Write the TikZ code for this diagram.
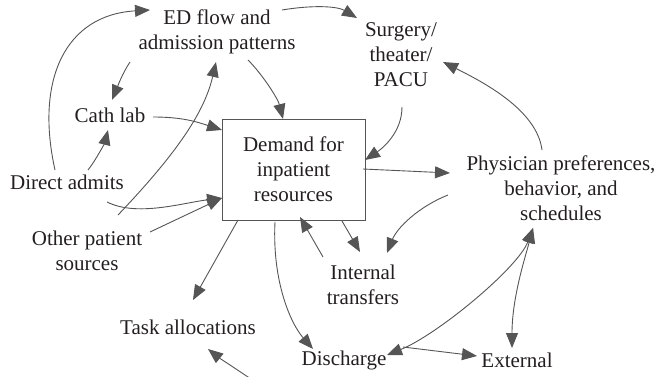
\documentclass[tikz,border=0pt]{standalone}
\usepackage{fontspec}
\setmainfont{Liberation Serif}
\usetikzlibrary{arrows.meta}
\definecolor{cg}{HTML}{555555}
\definecolor{tx}{HTML}{231F20}
\begin{document}
\begin{tikzpicture}[x=1pt,y=-1pt,
  lbl/.style={text=tx, align=center, inner sep=0pt, font=\fontsize{21}{25}\selectfont},
  boxn/.style={lbl, draw=cg, line width=0.9pt, minimum width=143pt, minimum height=101pt},
  conn/.style={draw=cg, line width=0.9pt, -{Triangle[length=15pt,width=12pt]}},
  dconn/.style={draw=cg, line width=0.9pt, {Triangle[length=15pt,width=12pt]}-{Triangle[length=15pt,width=12pt]}}]
\useasboundingbox (0,0) rectangle (661,377);
% nodes
\node[lbl] (ed) at (217,32) {ED flow and\\admission patterns};
\node[lbl] (surg) at (401,55) {Surgery/\\theater/\\PACU};
\node[lbl] (cath) at (110,115) {Cath lab};
\node[lbl] (direct) at (67,182) {Direct admits};
\node[lbl] (other) at (87,251) {Other patient\\sources};
\node[boxn] (dem) at (293.5,169.5) {Demand for\\inpatient\\resources};
\node[lbl] (phys) at (561,188) {Physician preferences,\\behavior, and\\schedules};
\node[lbl] (int) at (363,285) {Internal\\transfers};
\node[lbl] (task) at (188,327) {Task allocations};
\node[lbl] (dis) at (344,360) {Discharge};
\node[lbl] (ext) at (517,360) {External};
\coordinate (disout) at (254,381);
% connectors
\draw[conn] ([shift={(-12,-12)}]direct.center) .. controls +(-20,-90) and +(-85,5) .. ([shift={(-67,-22)}]ed.center);
\draw[conn] ([shift={(-87,30)}]ed.center) .. controls +(-8,12) and +(5,-12) .. ([shift={(2,-15)}]cath.center);
\draw[conn] ([shift={(21,-12)}]direct.center) .. controls +(8,-10) and +(-3,12) .. ([shift={(-2,15)}]cath.center);
\draw[conn] ([shift={(31,-36)}]other.center) .. controls +(62,-65) and +(-11,48) .. ([shift={(-1,30)}]ed.center);
\draw[conn] ([shift={(31,28)}]ed.center) .. controls +(15,15) and +(-5,-20) .. ([shift={(-10.5,-50.5)}]dem.center);
\draw[conn] ([shift={(43,2)}]cath.center) .. controls +(30,0) and +(-25,-8) .. ([shift={(-71.5,-39.5)}]dem.center);
\draw[conn] ([shift={(65,-22)}]ed.center) .. controls +(30,-5) and +(-20,-12) .. ([shift={(-44,-37)}]surg.center);
\draw[conn] ([shift={(1,52)}]surg.center) .. controls +(0,25) and +(18,-12) .. ([shift={(71.5,-9.5)}]dem.center);
\draw[conn] ([shift={(-19,-38)}]phys.center) .. controls +(-5,-40) and +(40,20) .. ([shift={(42,7)}]surg.center);
\draw[conn] ([shift={(69.5,-0.5)}]dem.center) -- ([shift={(-111,-15)}]phys.center);
\draw[conn] ([shift={(-113,7)}]phys.center) .. controls +(-30,12) and +(10,-25) .. ([shift={(24,-32)}]int.center);
\draw[conn] ([shift={(48.5,51.5)}]dem.center) -- ([shift={(-3,-33)}]int.center);
\draw[conn] ([shift={(-40,-28)}]int.center) -- ([shift={(6.5,47.5)}]dem.center);
\draw[conn] ([shift={(-55.5,50.5)}]dem.center) -- ([shift={(5,-27)}]task.center);
\draw[conn] ([shift={(-18.5,52.5)}]dem.center) .. controls +(-3,60) and +(-22,-25) .. ([shift={(-31,-11)}]dis.center);
\begin{scope}
\clip (0,0) rectangle (661,377);
\draw[conn] (disout) .. controls +(-18,-12) and +(10,8) .. ([shift={(20,22)}]task.center);
\end{scope}
\draw[dconn] ([shift={(43,-5)}]dis.center) .. controls +(50,-20) and +(-15,40) .. ([shift={(-28,40)}]phys.center);
\draw[dconn] ([shift={(-5,-12)}]ext.center) .. controls +(0,-50) and +(-8,30) .. ([shift={(-28,40)}]phys.center);
\draw[conn] ([shift={(59,-13)}]dis.center) -- ([shift={(-40,-4)}]ext.center);
\draw[conn] ([shift={(40,20)}]direct.center) .. controls +(30,15) and +(-40,5) .. ([shift={(-71.5,28.5)}]dem.center);
\draw[conn] ([shift={(63,-19)}]other.center) -- ([shift={(-71.5,28.5)}]dem.center);
\end{tikzpicture}
\end{document}
